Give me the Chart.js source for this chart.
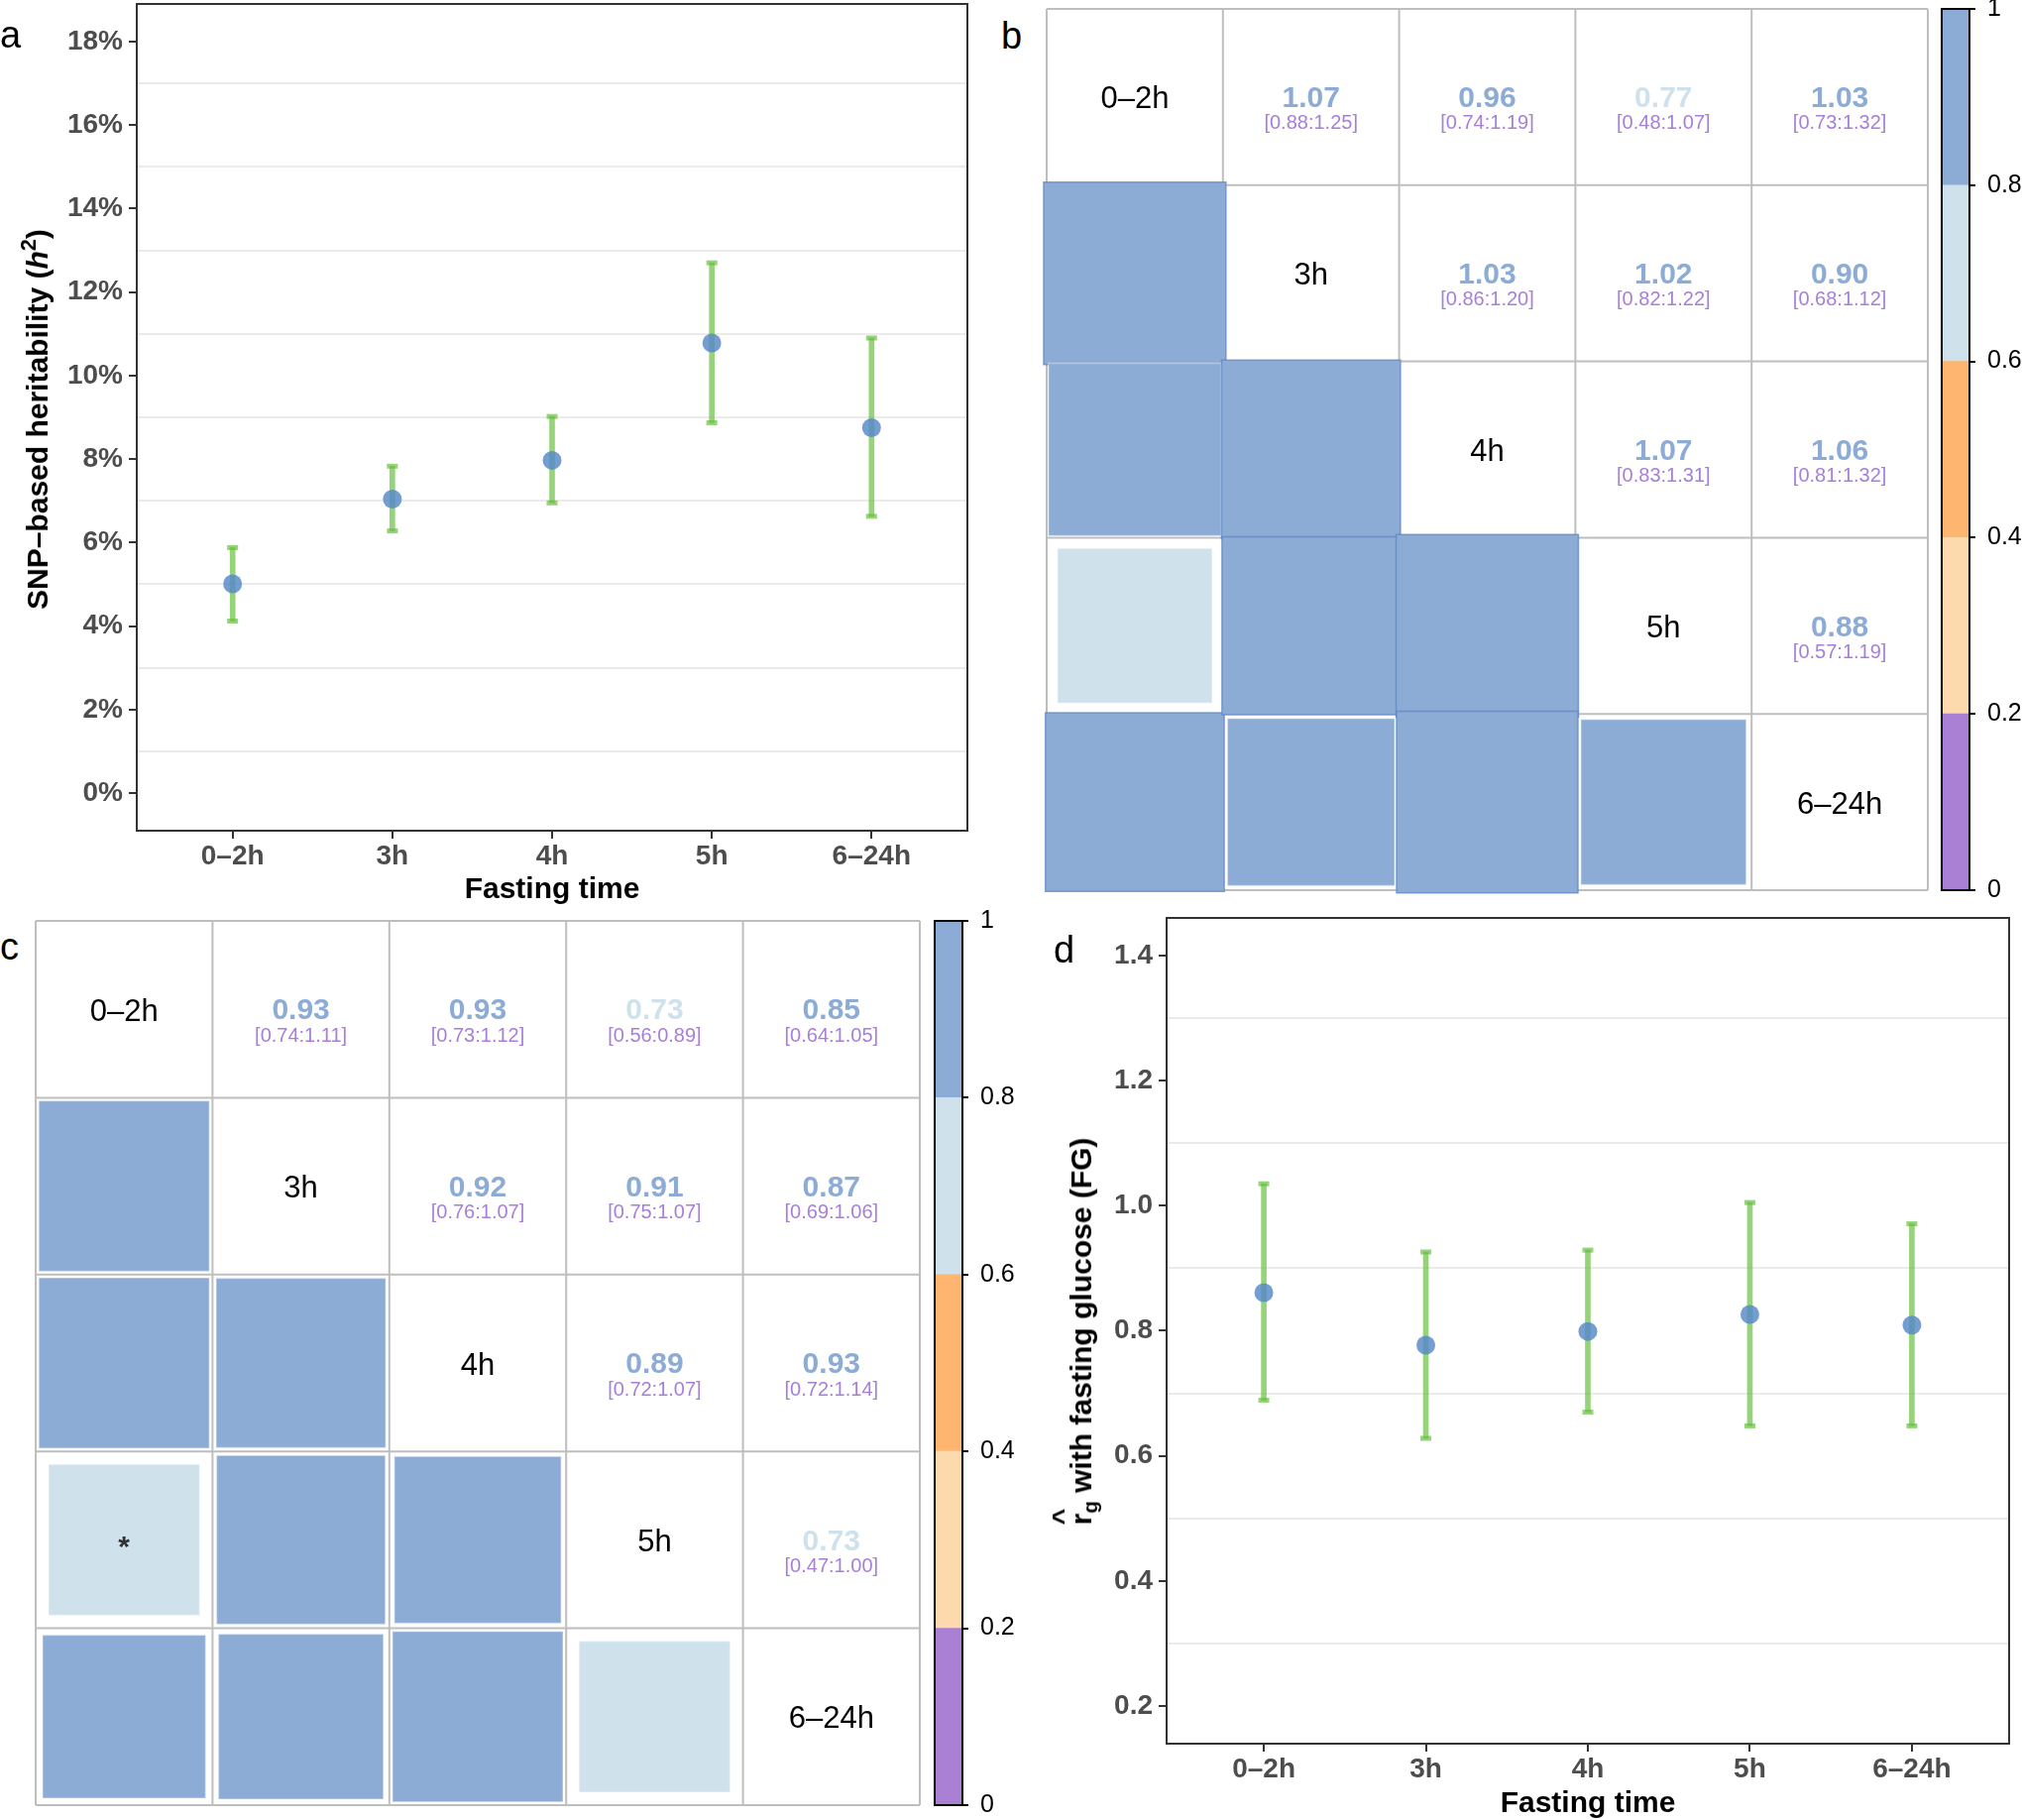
<!DOCTYPE html>
<html><head><meta charset="utf-8">
<script src="https://cdn.jsdelivr.net/npm/chart.js@4.4.0/dist/chart.umd.min.js"></script>
<style>
html,body{margin:0;padding:0;background:#fff;}
body{width:2040px;height:1836px;position:relative;overflow:hidden;font-family:"Liberation Sans",Arial,sans-serif;}
canvas{position:absolute;}
.lbl{position:absolute;font-size:38px;line-height:1;color:#000;}
.ytitle{position:absolute;white-space:nowrap;font-weight:bold;font-size:30px;line-height:1;color:#000;transform:translate(-50%,-50%) rotate(-90deg);}
.ytitle sup{font-size:0.72em;vertical-align:0.55em;line-height:0;}
.ytitle sub{font-size:0.68em;vertical-align:-0.28em;line-height:0;}
.rh{position:relative;display:inline-block;}
.hat{position:absolute;left:0;right:0;text-align:center;top:-0.66em;font-size:0.95em;font-weight:bold;}
</style></head><body>
<canvas id="cA" width="1000" height="920" style="left:0;top:0"></canvas>
<canvas id="cB" width="915" height="910" style="left:1040px;top:0"></canvas>
<canvas id="cBbar" width="90" height="910" style="left:1950px;top:0"></canvas>
<canvas id="cC" width="915" height="915" style="left:20px;top:915px"></canvas>
<canvas id="cCbar" width="90" height="926" style="left:935px;top:910px"></canvas>
<canvas id="cD" width="1020" height="926" style="left:1020px;top:910px"></canvas>

<div class="lbl" style="left:0;top:16px">a</div>
<div class="lbl" style="left:1010px;top:17px">b</div>
<div class="lbl" style="left:0;top:936px">c</div>
<div class="lbl" style="left:1063px;top:939px">d</div>
<div class="ytitle" style="left:38px;top:423px">SNP–based heritability (<i>h</i><sup>2</sup>)</div>
<div class="ytitle" style="left:1091px;top:1343px"><span class="rh">r<span class="hat">^</span></span><sub>g</sub> with fasting glucose (FG)</div>

<script>
// ---------------- data ----------------
const categories = ['0–2h', '3h', '4h', '5h', '6–24h'];

// panel a: SNP-based heritability (%)
const h2Est = [5.01, 7.04, 7.97, 10.78, 8.75];
const h2Lo  = [4.12, 6.28, 6.95, 8.87, 6.63];
const h2Hi  = [5.88, 7.83, 9.02, 12.70, 10.90];
const h2TickValues = [0, 1, 2, 3, 4, 5, 6, 7, 8, 9, 10, 11, 12, 13, 14, 15, 16, 17, 18];

// panel d: genetic correlation with fasting glucose
const rgEst = [0.861, 0.777, 0.799, 0.826, 0.809];
const rgLo  = [0.689, 0.628, 0.670, 0.648, 0.648];
const rgHi  = [1.035, 0.926, 0.929, 1.005, 0.971];
const rgTickValues = [0.2, 0.3, 0.4, 0.5, 0.6, 0.7, 0.8, 0.9, 1.0, 1.1, 1.2, 1.3, 1.4];

// panel b: pairwise genetic correlations (upper triangle)
const bRg = [
  [null, 1.07, 0.96, 0.77, 1.03],
  [null, null, 1.03, 1.02, 0.90],
  [null, null, null, 1.07, 1.06],
  [null, null, null, null, 0.88],
  [null, null, null, null, null]
];
const bLo = [
  [null, 0.88, 0.74, 0.48, 0.73],
  [null, null, 0.86, 0.82, 0.68],
  [null, null, null, 0.83, 0.81],
  [null, null, null, null, 0.57],
  [null, null, null, null, null]
];
const bHi = [
  [null, 1.25, 1.19, 1.07, 1.32],
  [null, null, 1.20, 1.22, 1.12],
  [null, null, null, 1.31, 1.32],
  [null, null, null, null, 1.19],
  [null, null, null, null, null]
];

// panel c
const cRg = [
  [null, 0.93, 0.93, 0.73, 0.85],
  [null, null, 0.92, 0.91, 0.87],
  [null, null, null, 0.89, 0.93],
  [null, null, null, null, 0.73],
  [null, null, null, null, null]
];
const cLo = [
  [null, 0.74, 0.73, 0.56, 0.64],
  [null, null, 0.76, 0.75, 0.69],
  [null, null, null, 0.72, 0.72],
  [null, null, null, null, 0.47],
  [null, null, null, null, null]
];
const cHi = [
  [null, 1.11, 1.12, 0.89, 1.05],
  [null, null, 1.07, 1.07, 1.06],
  [null, null, null, 1.07, 1.14],
  [null, null, null, null, 1.00],
  [null, null, null, null, null]
];

// colour bar
const cbBreaks = [0, 0.2, 0.4, 0.6, 0.8, 1];
const cbColors = ['#aa80d4', '#fddaae', '#fdb56f', '#cfe2ec', '#8cacd6'];
const cbTickLabels = ['0', '0.2', '0.4', '0.6', '0.8', '1'];

// ---------------- styling ----------------
const FONT = '"Liberation Sans", Arial, sans-serif';
Chart.defaults.font.family = FONT;
const GREEN = 'rgba(100,190,60,0.68)';
const BLUE = 'rgba(85,135,200,0.82)';
const CI_COLOR = '#a77fd9';
const GRID_COLOR = '#bebebe';
const TRANSPARENT = 'rgba(0,0,0,0)';

function binColor(v) {
  for (let k = 0; k < cbColors.length; k++) if (v < cbBreaks[k + 1]) return cbColors[k];
  return cbColors[cbColors.length - 1];
}

function boxPlugin(color) {
  return { id: 'box', afterDraw(chart) {
    const { ctx, chartArea: a } = chart;
    ctx.save(); ctx.strokeStyle = color; ctx.lineWidth = 2;
    ctx.strokeRect(a.left, a.top, a.right - a.left, a.bottom - a.top);
    ctx.restore();
  } };
}

function errorChart(id, est, lo, hi, yMin, yMax, tickValues, isMajor, fmt, pad, yW, xH, xTickPad, titlePad) {
  return new Chart(document.getElementById(id), {
    type: 'scatter',
    data: { datasets: [
      { type: 'bar', data: est.map((_, i) => ({ x: i, y: [lo[i], hi[i]] })), backgroundColor: GREEN,
        borderWidth: 0, barThickness: 5, order: 3 },
      { type: 'scatter', data: est.flatMap((_, i) => [{ x: i, y: lo[i] }, { x: i, y: hi[i] }]),
        pointStyle: 'line', pointRadius: 5.5, pointBorderColor: GREEN, pointBorderWidth: 5, order: 2 },
      { type: 'scatter', data: est.map((v, i) => ({ x: i, y: v })), pointStyle: 'circle', pointRadius: 9.5,
        pointBackgroundColor: BLUE, pointBorderWidth: 0, order: 1 }
    ] },
    options: {
      responsive: false, animation: false, devicePixelRatio: 1, events: [],
      layout: { padding: pad, autoPadding: false },
      plugins: { legend: { display: false }, tooltip: { enabled: false } },
      scales: {
        x: {
          type: 'linear', min: -0.6, max: 4.6, offset: false,
          afterBuildTicks: ax => { ax.ticks = categories.map((c, i) => ({ value: i })); },
          afterFit: ax => { ax.height = xH; ax.paddingLeft = 0; ax.paddingRight = 0; },
          ticks: { callback: v => categories[v], font: { size: 28, weight: 'bold' }, color: '#4d4d4d',
            padding: xTickPad, autoSkip: false, maxRotation: 0 },
          grid: { offset: false, drawOnChartArea: false, drawTicks: true, tickLength: 8, tickColor: '#333', lineWidth: 2 },
          border: { display: false },
          title: { display: true, text: 'Fasting time', font: { size: 30, weight: 'bold' }, color: '#000',
            padding: { top: 0, bottom: titlePad } }
        },
        y: {
          type: 'linear', min: yMin, max: yMax,
          afterBuildTicks: ax => { ax.ticks = tickValues.map(v => ({ value: v })); },
          afterFit: ax => { ax.width = yW; ax.paddingTop = 0; ax.paddingBottom = 0; },
          ticks: { callback: v => isMajor(v) ? fmt(v) : '', font: { size: 28, weight: 'bold' }, color: '#4d4d4d',
            padding: 6, autoSkip: false },
          grid: {
            color: c => (c.tick && !isMajor(c.tick.value)) ? '#ebebeb' : TRANSPARENT,
            tickColor: c => (c.tick && isMajor(c.tick.value)) ? '#333' : TRANSPARENT,
            lineWidth: 2, drawTicks: true, tickLength: 8
          },
          border: { display: false }
        }
      }
    },
    plugins: [boxPlugin('#333')]
  });
}

function matrixChart(id, rg, lo, hi, pad) {
  const n = categories.length;
  const squares = [];
  for (let i = 0; i < n; i++) for (let j = i + 1; j < n; j++) squares.push({ x: i + 0.5, y: j + 0.5, v: rg[i][j], star: hi[i][j] < 1 });
  const cellPlugin = {
    id: 'cells',
    beforeDatasetsDraw(chart) {
      const { ctx } = chart; const xs = chart.scales.x, ys = chart.scales.y;
      ctx.save();
      ctx.strokeStyle = GRID_COLOR; ctx.lineWidth = 2;
      for (let k = 0; k <= n; k++) {
        const px = xs.getPixelForValue(k), py = ys.getPixelForValue(k);
        ctx.beginPath(); ctx.moveTo(px, ys.getPixelForValue(0)); ctx.lineTo(px, ys.getPixelForValue(n)); ctx.stroke();
        ctx.beginPath(); ctx.moveTo(xs.getPixelForValue(0), py); ctx.lineTo(xs.getPixelForValue(n), py); ctx.stroke();
      }
      ctx.textAlign = 'center'; ctx.textBaseline = 'middle';
      for (let i = 0; i < n; i++) {
        const cy = ys.getPixelForValue(i + 0.5);
        ctx.fillStyle = '#000'; ctx.font = '31px ' + FONT;
        ctx.fillText(categories[i], xs.getPixelForValue(i + 0.5), cy + 3);
        for (let j = i + 1; j < n; j++) {
          const cx = xs.getPixelForValue(j + 0.5);
          ctx.fillStyle = binColor(rg[i][j]); ctx.font = 'bold 30px ' + FONT;
          ctx.fillText(rg[i][j].toFixed(2), cx, cy + 2);
          ctx.fillStyle = CI_COLOR; ctx.font = '20px ' + FONT;
          ctx.fillText('[' + lo[i][j].toFixed(2) + ':' + hi[i][j].toFixed(2) + ']', cx, cy + 27);
        }
      }
      ctx.restore();
    },
    afterDatasetsDraw(chart) {
      const { ctx } = chart; const xs = chart.scales.x, ys = chart.scales.y;
      ctx.save(); ctx.fillStyle = '#333'; ctx.font = 'bold 30px ' + FONT; ctx.textAlign = 'center'; ctx.textBaseline = 'alphabetic';
      squares.forEach(s => { if (s.star) ctx.fillText('*', xs.getPixelForValue(s.x), ys.getPixelForValue(s.y) + 17); });
      ctx.restore();
    }
  };
  return new Chart(document.getElementById(id), {
    type: 'scatter',
    data: { datasets: [{
      data: squares, pointStyle: 'rect', clip: false,
      pointBackgroundColor: c => binColor(c.raw.v),
      pointBorderColor: c => c.raw.v > 1 ? 'rgba(95,135,195,0.75)' : 'rgba(255,255,255,0.35)',
      pointBorderWidth: 1.5,
      pointRadius: c => {
        const xs = c.chart.scales.x;
        if (!xs) return 0;
        const cell = Math.abs(xs.getPixelForValue(1) - xs.getPixelForValue(0));
        return Math.sqrt(Math.abs(c.raw.v)) * cell / Math.SQRT2;
      }
    }] },
    options: {
      responsive: false, animation: false, devicePixelRatio: 1, events: [],
      layout: { padding: pad, autoPadding: false },
      plugins: { legend: { display: false }, tooltip: { enabled: false } },
      scales: {
        x: { type: 'linear', min: 0, max: n, display: false },
        y: { type: 'linear', min: 0, max: n, reverse: true, display: false }
      }
    },
    plugins: [cellPlugin]
  });
}

function colorbarChart(id, pad, axisW) {
  return new Chart(document.getElementById(id), {
    type: 'bar',
    data: { labels: [''], datasets: cbColors.map((c, k) => ({
      data: [cbBreaks[k + 1] - cbBreaks[k]], backgroundColor: c, borderWidth: 0,
      categoryPercentage: 1, barPercentage: 1 })) },
    options: {
      responsive: false, animation: false, devicePixelRatio: 1, events: [],
      layout: { padding: pad, autoPadding: false },
      plugins: { legend: { display: false }, tooltip: { enabled: false } },
      scales: {
        x: { display: false, stacked: true },
        y: {
          stacked: true, position: 'right', min: 0, max: 1,
          afterBuildTicks: ax => { ax.ticks = cbBreaks.map(v => ({ value: v })); },
          afterFit: ax => { ax.width = axisW; ax.paddingTop = 0; ax.paddingBottom = 0; },
          ticks: { callback: (v, i) => cbTickLabels[i], font: { size: 25 }, color: '#000', padding: 12, autoSkip: false },
          grid: { drawOnChartArea: false, drawTicks: true, tickLength: 6, tickColor: '#000', lineWidth: 2 },
          border: { display: false }
        }
      }
    },
    plugins: [boxPlugin('#000')]
  });
}

// ---------------- charts ----------------
errorChart('cA', h2Est, h2Lo, h2Hi, -0.9, 18.9, h2TickValues,
  v => Math.round(v) % 2 === 0, v => Math.round(v) + '%',
  { left: 0, right: 24, top: 4, bottom: 0 }, 138, 82, 1, 4);

errorChart('cD', rgEst, rgLo, rgHi, 0.14, 1.46, rgTickValues,
  v => Math.round(v * 10) % 2 === 0, v => v.toFixed(1),
  { left: 0, right: 13, top: 16, bottom: 0 }, 157, 77, 1, -2);

matrixChart('cB', bRg, bLo, bHi, { left: 16, right: 10, top: 9, bottom: 12 });
colorbarChart('cBbar', { left: 9, right: 0, top: 9, bottom: 12 }, 53);

matrixChart('cC', cRg, cLo, cHi, { left: 16, right: 7, top: 14, bottom: 9 });
colorbarChart('cCbar', { left: 8, right: 0, top: 19, bottom: 15 }, 54);
</script>
</body></html>
